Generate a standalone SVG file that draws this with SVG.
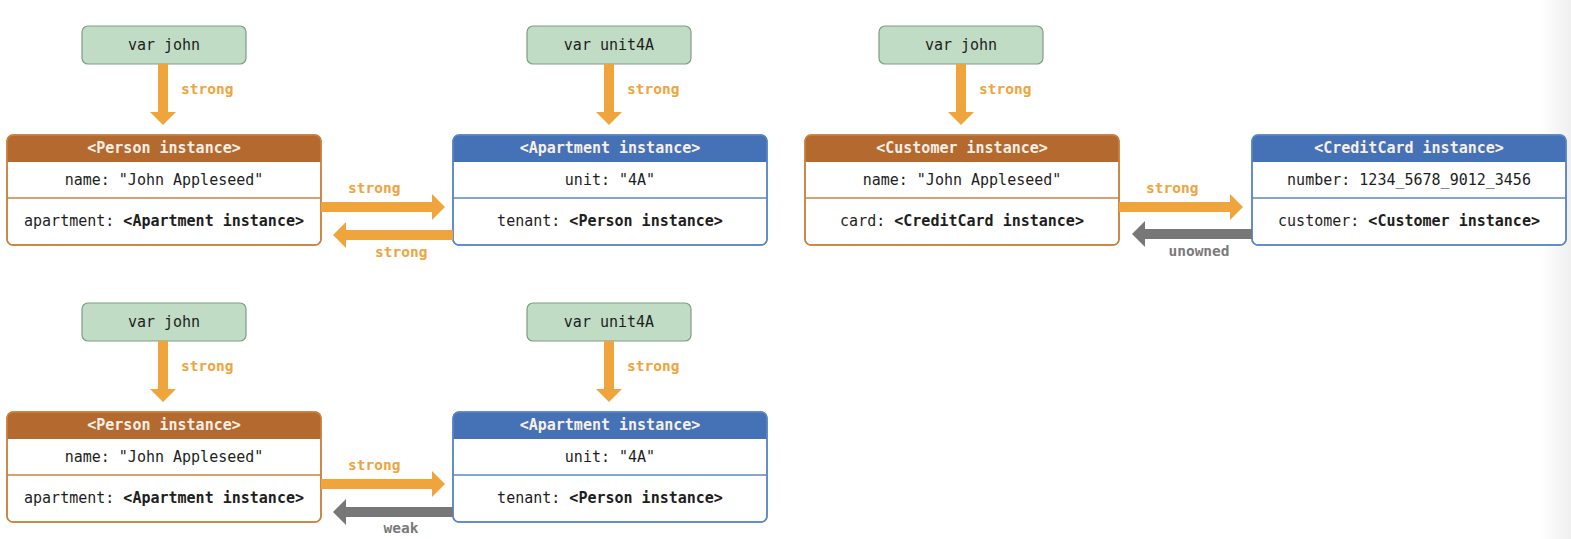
<svg xmlns="http://www.w3.org/2000/svg" width="1571" height="539" viewBox="0 0 1571 539">
<defs>
<linearGradient id="edge" x1="0" y1="0" x2="1" y2="0">
<stop offset="0" stop-color="#ffffff"/>
<stop offset="1" stop-color="#efefef"/>
</linearGradient>
<marker id="ah-o" viewBox="0 0 13 26" markerWidth="13" markerHeight="26" refX="0" refY="13" orient="auto" markerUnits="userSpaceOnUse">
<path d="M0,0 L13,13 L0,26 Z" fill="#f0a43c"/>
</marker>
<marker id="ah-g" viewBox="0 0 13 26" markerWidth="13" markerHeight="26" refX="0" refY="13" orient="auto" markerUnits="userSpaceOnUse">
<path d="M0,0 L13,13 L0,26 Z" fill="#777777"/>
</marker>
</defs>
<style>
text{font-family:"DejaVu Sans Mono","Liberation Mono",monospace;font-size:15px;dominant-baseline:central;text-anchor:middle;fill:#1e1e1e}
.b{font-weight:bold}
.hd{font-weight:bold;fill:#f7efe6}
.var rect{fill:#c0dcc4;stroke:#7f9d84;stroke-width:1.2}
.box{fill:#ffffff;stroke-width:1.5}
.or .box,.or .ln{stroke:#c9833f}
.bl .box,.bl .ln{stroke:#5b87c3}
.or .hdr{fill:#b4692f}
.bl .hdr{fill:#4571b7}
.ln{stroke-width:1.3}
.so{stroke:#f0a43c;stroke-width:10;fill:none;marker-end:url(#ah-o)}
.sg{stroke:#777777;stroke-width:10;fill:none;marker-end:url(#ah-g)}
.lo{font-weight:bold;font-size:14.5px;fill:#f0a43c;text-anchor:start}
.lg{font-weight:bold;font-size:14.5px;fill:#7a7a7a}
</style>
<rect x="0" y="0" width="1571" height="539" fill="#ffffff"/>
<rect x="1540" y="0" width="31" height="539" fill="url(#edge)"/>

<!-- variable nodes -->
<g id="var-john-1" class="var"><rect x="82" y="26" width="164" height="38" rx="6"/><text x="164" y="45">var john</text></g>
<g id="var-unit4A-1" class="var"><rect x="527" y="26" width="164" height="38" rx="6"/><text x="609" y="45">var unit4A</text></g>
<g id="var-john-2" class="var"><rect x="879" y="26" width="164" height="38" rx="6"/><text x="961" y="45">var john</text></g>
<g id="var-john-3" class="var"><rect x="82" y="303" width="164" height="38" rx="6"/><text x="164" y="322">var john</text></g>
<g id="var-unit4A-3" class="var"><rect x="527" y="303" width="164" height="38" rx="6"/><text x="609" y="322">var unit4A</text></g>

<!-- instance nodes -->
<g id="person-1" class="or" transform="translate(7,135)">
<rect class="box" x="0" y="0" width="314" height="110" rx="6"/>
<path class="hdr" d="M0,27 V6 A6,6 0 0 1 6,0 H308 A6,6 0 0 1 314,6 V27 Z"/>
<line class="ln" x1="0" y1="63" x2="314" y2="63"/>
<rect class="box" x="0" y="0" width="314" height="110" rx="6" fill="none" style="fill:none"/>
<text class="hd" x="157" y="13">&lt;Person instance&gt;</text>
<text x="157" y="45">name: "John Appleseed"</text>
<text x="157" y="86">apartment: <tspan class="b">&lt;Apartment instance&gt;</tspan></text>
</g>
<g id="apartment-1" class="bl" transform="translate(453,135)">
<rect class="box" x="0" y="0" width="314" height="110" rx="6"/>
<path class="hdr" d="M0,27 V6 A6,6 0 0 1 6,0 H308 A6,6 0 0 1 314,6 V27 Z"/>
<line class="ln" x1="0" y1="63" x2="314" y2="63"/>
<rect class="box" x="0" y="0" width="314" height="110" rx="6" style="fill:none"/>
<text class="hd" x="157" y="13">&lt;Apartment instance&gt;</text>
<text x="157" y="45">unit: "4A"</text>
<text x="157" y="86">tenant: <tspan class="b">&lt;Person instance&gt;</tspan></text>
</g>
<g id="customer-1" class="or" transform="translate(805,135)">
<rect class="box" x="0" y="0" width="314" height="110" rx="6"/>
<path class="hdr" d="M0,27 V6 A6,6 0 0 1 6,0 H308 A6,6 0 0 1 314,6 V27 Z"/>
<line class="ln" x1="0" y1="63" x2="314" y2="63"/>
<rect class="box" x="0" y="0" width="314" height="110" rx="6" style="fill:none"/>
<text class="hd" x="157" y="13">&lt;Customer instance&gt;</text>
<text x="157" y="45">name: "John Appleseed"</text>
<text x="157" y="86">card: <tspan class="b">&lt;CreditCard instance&gt;</tspan></text>
</g>
<g id="creditcard-1" class="bl" transform="translate(1252,135)">
<rect class="box" x="0" y="0" width="314" height="110" rx="6"/>
<path class="hdr" d="M0,27 V6 A6,6 0 0 1 6,0 H308 A6,6 0 0 1 314,6 V27 Z"/>
<line class="ln" x1="0" y1="63" x2="314" y2="63"/>
<rect class="box" x="0" y="0" width="314" height="110" rx="6" style="fill:none"/>
<text class="hd" x="157" y="13">&lt;CreditCard instance&gt;</text>
<text x="157" y="45">number: 1234_5678_9012_3456</text>
<text x="157" y="86">customer: <tspan class="b">&lt;Customer instance&gt;</tspan></text>
</g>
<g id="person-3" class="or" transform="translate(7,412)">
<rect class="box" x="0" y="0" width="314" height="110" rx="6"/>
<path class="hdr" d="M0,27 V6 A6,6 0 0 1 6,0 H308 A6,6 0 0 1 314,6 V27 Z"/>
<line class="ln" x1="0" y1="63" x2="314" y2="63"/>
<rect class="box" x="0" y="0" width="314" height="110" rx="6" style="fill:none"/>
<text class="hd" x="157" y="13">&lt;Person instance&gt;</text>
<text x="157" y="45">name: "John Appleseed"</text>
<text x="157" y="86">apartment: <tspan class="b">&lt;Apartment instance&gt;</tspan></text>
</g>
<g id="apartment-3" class="bl" transform="translate(453,412)">
<rect class="box" x="0" y="0" width="314" height="110" rx="6"/>
<path class="hdr" d="M0,27 V6 A6,6 0 0 1 6,0 H308 A6,6 0 0 1 314,6 V27 Z"/>
<line class="ln" x1="0" y1="63" x2="314" y2="63"/>
<rect class="box" x="0" y="0" width="314" height="110" rx="6" style="fill:none"/>
<text class="hd" x="157" y="13">&lt;Apartment instance&gt;</text>
<text x="157" y="45">unit: "4A"</text>
<text x="157" y="86">tenant: <tspan class="b">&lt;Person instance&gt;</tspan></text>
</g>

<!-- connectors -->
<g id="connectors">
<line class="so" x1="163" y1="64" x2="163" y2="112"/>
<text class="lo" x="181" y="89">strong</text>
<line class="so" x1="609" y1="64" x2="609" y2="112"/>
<text class="lo" x="627" y="89">strong</text>
<line class="so" x1="961" y1="64" x2="961" y2="112"/>
<text class="lo" x="979" y="89">strong</text>
<line class="so" x1="163" y1="341" x2="163" y2="389"/>
<text class="lo" x="181" y="366">strong</text>
<line class="so" x1="609" y1="341" x2="609" y2="389"/>
<text class="lo" x="627" y="366">strong</text>

<line class="so" x1="321" y1="207" x2="432" y2="207"/>
<text class="lo" x="348" y="188">strong</text>
<line class="so" x1="453" y1="235" x2="346" y2="235"/>
<text class="lo" x="375" y="252">strong</text>

<line class="so" x1="1119" y1="207" x2="1230" y2="207"/>
<text class="lo" x="1146" y="188">strong</text>
<line class="sg" x1="1252" y1="234" x2="1145" y2="234"/>
<text class="lg" x="1199" y="251">unowned</text>

<line class="so" x1="321" y1="484" x2="432" y2="484"/>
<text class="lo" x="348" y="465">strong</text>
<line class="sg" x1="453" y1="512" x2="346" y2="512"/>
<text class="lg" x="401" y="528">weak</text>
</g>
</svg>
